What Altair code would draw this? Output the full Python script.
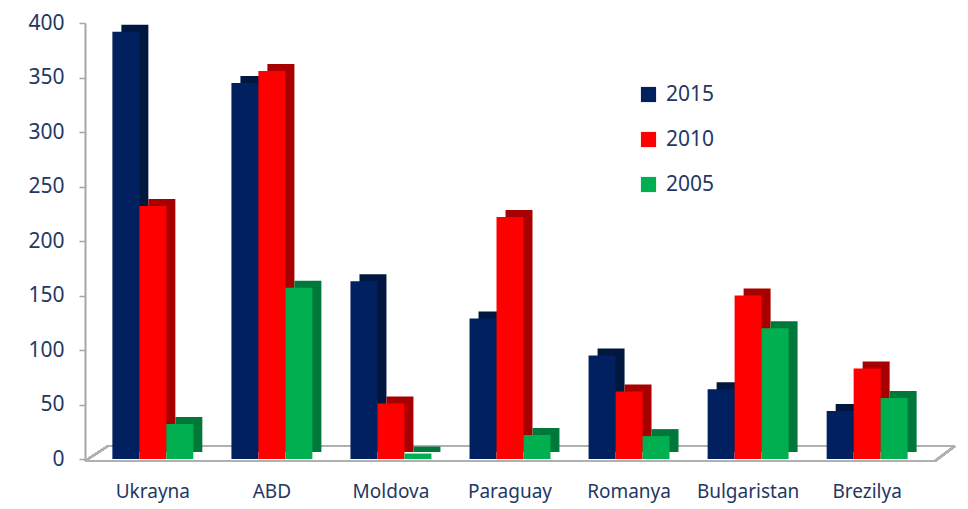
import altair as alt
import pandas as pd

countries = ["Ukrayna", "ABD", "Moldova", "Paraguay", "Romanya", "Bulgaristan", "Brezilya"]
years = ["2015", "2010", "2005"]
v2015 = [392, 345, 163, 129, 95, 64, 44]
v2010 = [232, 356, 51, 222, 62, 150, 83]
v2005 = [32, 157, 5, 22, 21, 120, 56]
y_ticks = [0, 50, 100, 150, 200, 250, 300, 350, 400]

front_colors = ["#002060", "#FF0000", "#00B050"]
side_colors = ["#00173F", "#A80000", "#00783A"]
text_color = "#1F3864"
font = "Noto Sans"

rows = []
for yr, vals in zip(years, [v2015, v2010, v2005]):
    for c, v in zip(countries, vals):
        rows.append({"country": c, "year": yr, "value": v})
df = pd.DataFrame(rows)

W, H = 850, 436
pin, pout = 0.32, 0.23
step = W / (len(countries) - pin + 2 * pout)
bw = step * (1 - pin)
depth = 9

x_enc = alt.X("country:N", sort=countries,
              scale=alt.Scale(paddingInner=pin, paddingOuter=pout),
              axis=alt.Axis(title=None, domain=False, ticks=False, labelAngle=0,
                            labelFont=font, labelFontSize=19, labelColor=text_color,
                            labelPadding=23))
y_enc = alt.Y("value:Q", scale=alt.Scale(domain=[0, 400], nice=False),
              axis=alt.Axis(title=None, values=y_ticks, grid=False,
                            domainColor="#A6A6A6", domainWidth=2,
                            tickColor="#A6A6A6", tickSize=6, tickWidth=1.5,
                            labelFont=font, labelFontSize=21, labelColor=text_color,
                            labelPadding=15))

base = alt.Chart(df)

back = base.mark_bar(yOffset=-7).encode(
    x=x_enc, y=y_enc,
    xOffset=alt.XOffset("year:N", sort=years,
                        scale=alt.Scale(paddingInner=0, range=[depth, bw + depth])),
    color=alt.Color("year:N", sort=years,
                    scale=alt.Scale(domain=years, range=side_colors), legend=None),
)

front = base.mark_bar().encode(
    x=x_enc, y=y_enc,
    xOffset=alt.XOffset("year:N", sort=years,
                        scale=alt.Scale(paddingInner=0, range=[0, bw])),
    color=alt.Color("year:N", sort=years,
                    scale=alt.Scale(domain=years, range=front_colors),
                    legend=alt.Legend(title=None, orient="none", legendX=553, legendY=61,
                                      symbolType="square", symbolSize=230,
                                      symbolStrokeWidth=0,
                                      labelFont=font, labelFontSize=21,
                                      labelColor=text_color, rowPadding=23,
                                      labelOffset=7)),
)

floor_style = dict(color="#B0B0B0", strokeWidth=2)
floor_front = alt.Chart(df).mark_rule(**floor_style).encode(
    x=alt.value(0), x2=alt.value(850), y=alt.value(H + 2), y2=alt.value(H + 2))
floor_back = alt.Chart(df).mark_rule(**floor_style).encode(
    x=alt.value(23), x2=alt.value(870), y=alt.value(H - 13), y2=alt.value(H - 13))
floor_left = alt.Chart(df).mark_rule(**floor_style).encode(
    x=alt.value(0), x2=alt.value(23), y=alt.value(H + 2), y2=alt.value(H - 13))
floor_right = alt.Chart(df).mark_rule(**floor_style).encode(
    x=alt.value(850), x2=alt.value(870), y=alt.value(H + 2), y2=alt.value(H - 13))

chart = alt.layer(floor_back, floor_left, floor_right, floor_front, back, front).resolve_scale(
    color="independent", xOffset="independent"
).properties(
    width=W, height=H,
    padding={"left": 77, "top": 15, "right": 25, "bottom": 50},
    autosize=alt.AutoSizeParams(type="none"),
).configure_view(stroke=None)

chart.save("out.html", embed_options={"renderer": "svg", "actions": False})
